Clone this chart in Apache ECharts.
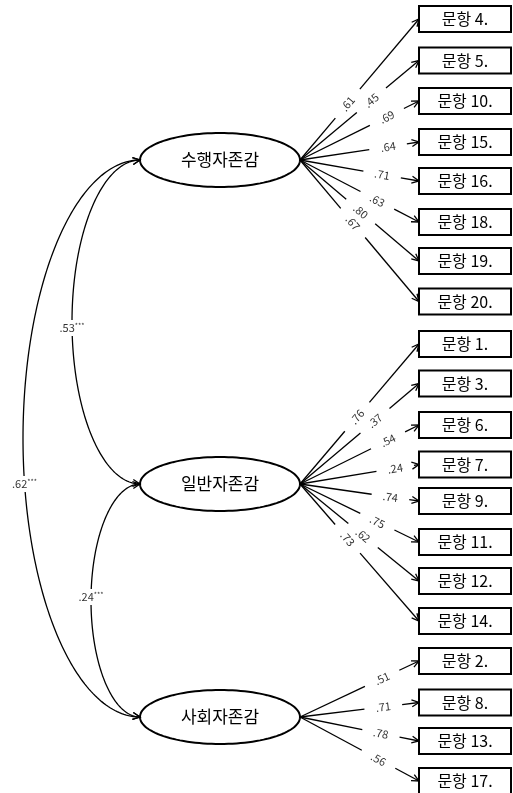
<!DOCTYPE html>
<html><head><meta charset="utf-8">
<script src="https://cdn.jsdelivr.net/npm/echarts@6/dist/echarts.min.js"></script>
<style>html,body{margin:0;padding:0;background:#fff}#c{width:513px;height:793px}</style>
</head><body><div id="c"></div>
<script>
// ---------- data ----------
const factors = ['수행자존감', '일반자존감', '사회자존감'];
const items1 = ['문항 4.', '문항 5.', '문항 10.', '문항 15.', '문항 16.', '문항 18.', '문항 19.', '문항 20.'];
const loads1 = ['.61', '.45', '.69', '.64', '.71', '.63', '.80', '.67'];
const items2 = ['문항 1.', '문항 3.', '문항 6.', '문항 7.', '문항 9.', '문항 11.', '문항 12.', '문항 14.'];
const loads2 = ['.76', '.37', '.54', '.24', '.74', '.75', '.62', '.73'];
const items3 = ['문항 2.', '문항 8.', '문항 13.', '문항 17.'];
const loads3 = ['.51', '.71', '.78', '.56'];
const corrPairs = [[0, 1], [1, 2], [0, 2]];
const corrValues = ['.53', '.24', '.62'];
const corrSig = ['***', '***', '***'];

// ---------- layout (chart units = pixels) ----------
const FONT = '"Noto Sans CJK KR", "Noto Sans", sans-serif';
const factorX = 220, factorRx = 80, factorRy = 27;
const factorY = [160, 484, 717];
const itemBoxY = [
  [19, 60.5, 101, 142, 181, 222, 261, 301.5],
  [344, 383.5, 425, 464.5, 501, 542, 581, 621],
  [661, 702.5, 741, 781]
];
const boxLeft = 419, boxW = 92, boxH = 26;
const labelFrac = [
  [.40, .60, .73, .74, .69, .65, .51, .445],
  [.48, .63, .74, .80, .76, .65, .53, .40],
  [.69, .70, .68, .66]
];
const corrLeftX = [72, 91, 23];
const corrLabelY = [328, 597, 484];

const itemGroups = [items1, items2, items3];
const loadGroups = [loads1, loads2, loads3];

// flatten
const itemNames = [], itemData = [], loadData = [], loadText = [];
itemGroups.forEach((g, gi) => {
  g.forEach((name, i) => {
    itemNames.push(name);
    itemData.push([boxLeft, itemBoxY[gi][i]]);
    loadText.push(loadGroups[gi][i]);
    loadData.push([factorX + factorRx, factorY[gi], boxLeft, itemBoxY[gi][i], labelFrac[gi][i]]);
  });
});
const corrData = corrPairs.map((p, i) => [factorX - factorRx, factorY[p[0]], factorY[p[1]], corrLeftX[i], corrLabelY[i]]);

function arrowHead(tip, ang, len, spread) {
  return [
    [tip[0] - len * Math.cos(ang - spread), tip[1] - len * Math.sin(ang - spread)],
    tip,
    [tip[0] - len * Math.cos(ang + spread), tip[1] - len * Math.sin(ang + spread)]
  ];
}

const chart = echarts.init(document.getElementById('c'), null, { renderer: 'canvas' });
chart.setOption({
  animation: false,
  backgroundColor: '#fff',
  grid: { left: 0, right: 0, top: 0, bottom: 0 },
  xAxis: { type: 'value', min: 0, max: 513, show: false },
  yAxis: { type: 'value', min: 0, max: 793, inverse: true, show: false },
  series: [
    {
      type: 'custom', coordinateSystem: 'cartesian2d', encode: { x: 0, y: 1 }, z: 2,
      data: loadData,
      renderItem(params, api) {
        const o = api.coord([api.value(0), api.value(1)]);
        const e = api.coord([api.value(2), api.value(3)]);
        const t = api.value(4);
        const dx = e[0] - o[0], dy = e[1] - o[1];
        const L = Math.hypot(dx, dy), ux = dx / L, uy = dy / L;
        const lc = [o[0] + dx * t, o[1] + dy * t];
        const gap = 19;
        const p1 = [lc[0] - ux * gap, lc[1] - uy * gap];
        const p2 = [lc[0] + ux * gap, lc[1] + uy * gap];
        const ang = Math.atan2(dy, dx);
        const ls = { stroke: '#000', lineWidth: 1.3, fill: null };
        return {
          type: 'group', children: [
            { type: 'line', shape: { x1: o[0], y1: o[1], x2: p1[0], y2: p1[1] }, style: ls },
            { type: 'line', shape: { x1: p2[0], y1: p2[1], x2: e[0], y2: e[1] }, style: ls },
            { type: 'polyline', shape: { points: arrowHead(e, ang, 8, 0.45) }, style: ls },
            {
              type: 'text', x: lc[0], y: lc[1], rotation: -ang,
              style: { text: loadText[params.dataIndex], fill: '#333', font: '11px ' + FONT, align: 'center', verticalAlign: 'middle' }
            }
          ]
        };
      }
    },
    {
      type: 'custom', coordinateSystem: 'cartesian2d', encode: { x: 0, y: 1 }, z: 3,
      data: itemData,
      renderItem(params, api) {
        const tl = api.coord([api.value(0), api.value(1) - boxH / 2]);
        const br = api.coord([api.value(0) + boxW, api.value(1) + boxH / 2]);
        return {
          type: 'group', children: [
            { type: 'rect', shape: { x: tl[0], y: tl[1], width: br[0] - tl[0], height: br[1] - tl[1] }, style: { fill: '#fff', stroke: '#000', lineWidth: 2 } },
            {
              type: 'text', x: (tl[0] + br[0]) / 2, y: (tl[1] + br[1]) / 2,
              style: { text: itemNames[params.dataIndex], fill: '#000', font: '16px ' + FONT, align: 'center', verticalAlign: 'middle' }
            }
          ]
        };
      }
    },
    {
      type: 'custom', coordinateSystem: 'cartesian2d', encode: { x: 0, y: 1 }, z: 3,
      data: factors.map((f, i) => [factorX, factorY[i]]),
      renderItem(params, api) {
        const pts = [];
        for (let k = 0; k < 120; k++) {
          const a = k / 120 * Math.PI * 2;
          pts.push(api.coord([api.value(0) + factorRx * Math.cos(a), api.value(1) + factorRy * Math.sin(a)]));
        }
        const c = api.coord([api.value(0), api.value(1)]);
        return {
          type: 'group', children: [
            { type: 'polygon', shape: { points: pts }, style: { fill: '#fff', stroke: '#000', lineWidth: 2 } },
            {
              type: 'text', x: c[0], y: c[1],
              style: { text: factors[params.dataIndex], fill: '#000', font: '17px ' + FONT, align: 'center', verticalAlign: 'middle' }
            }
          ]
        };
      }
    },
    {
      type: 'custom', coordinateSystem: 'cartesian2d', encode: { x: 0, y: 1 }, z: 4,
      data: corrData,
      renderItem(params, api) {
        const x0 = api.value(0), y1 = api.value(1), y2 = api.value(2), lx = api.value(3), ly = api.value(4);
        const mid = (y1 + y2) / 2, rx = x0 - lx, ry = (y2 - y1) / 2;
        const pts = [];
        const N = 160;
        for (let k = 0; k <= N; k++) {
          const th = -Math.PI / 2 + Math.PI * k / N;
          pts.push(api.coord([x0 - rx * Math.cos(th), mid + ry * Math.sin(th)]));
        }
        const ls = { stroke: '#000', lineWidth: 1.3, fill: null };
        const s = pts[0], s2 = pts[6];
        const e = pts[N], e2 = pts[N - 6];
        const a1 = Math.atan2(s[1] - s2[1], s[0] - s2[0]);
        const a2 = Math.atan2(e[1] - e2[1], e[0] - e2[0]);
        const dyl = (ly - mid) / ry;
        const lxx = x0 - rx * Math.sqrt(Math.max(0, 1 - dyl * dyl));
        const lp = api.coord([lxx, ly]);
        const i = params.dataIndex;
        return {
          type: 'group', children: [
            { type: 'polyline', shape: { points: pts }, style: ls },
            { type: 'polyline', shape: { points: arrowHead(s, a1, 8, 0.45) }, style: ls },
            { type: 'polyline', shape: { points: arrowHead(e, a2, 8, 0.45) }, style: ls },
            {
              type: 'text', x: lp[0], y: lp[1], z2: 10,
              style: {
                text: '{a|' + corrValues[i] + '}{b|' + corrSig[i] + '}',
                align: 'center', verticalAlign: 'middle',
                backgroundColor: '#fff', padding: [2, 1, 2, 1],
                rich: {
                  a: { font: '11px ' + FONT, fill: '#333', lineHeight: 12 },
                  b: { font: '7px ' + FONT, fill: '#333', lineHeight: 12, verticalAlign: 'top', padding: [0, 0, 5, 0] }
                }
              }
            }
          ]
        };
      }
    }
  ]
});
</script></body></html>
